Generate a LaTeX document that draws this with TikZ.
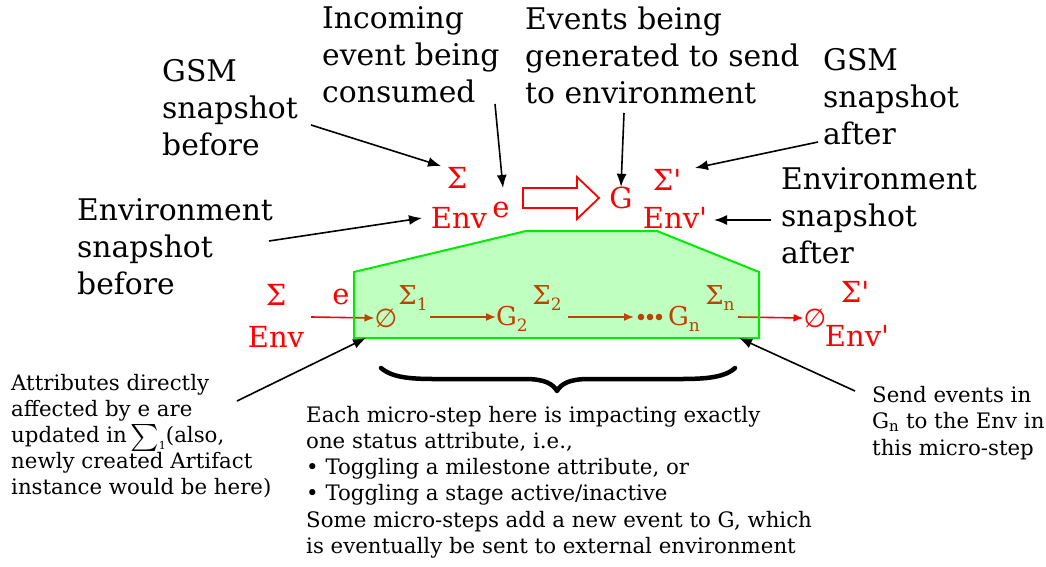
\documentclass[tikz,border=0pt]{standalone}
\usepackage{exscale}
\usepackage{graphicx}
\usepackage{fontspec}
\setmainfont{DejaVu Serif}
\newfontfamily\symfont{DejaVu Sans}
\usetikzlibrary{arrows.meta}
\newcommand\lowsub[1]{\raisebox{-0.45ex}{\fontsize{17}{17}\selectfont #1}}
\newcommand\prm{\textquotesingle}
\newcommand\bigsum[1]{\smash{\raisebox{-0.12em}{\scalebox{1.3}{$\sum$}}\raisebox{-0.35em}{\fontsize{11}{11}\selectfont #1}}}
\begin{document}
\begin{tikzpicture}[x=1pt,y=-1pt,
  lbl/.style={font=\fontsize{29.8}{37}\selectfont, align=left, inner sep=0pt},
  sym/.style={font=\fontsize{29}{29}\selectfont, text=red, inner sep=0pt},
  isym/.style={font=\fontsize{26}{26}\selectfont, text=red, inner sep=0pt},
  note/.style={font=\fontsize{21.3}{26.2}\selectfont, align=left, inner sep=0pt},
  ptr/.style={line width=1.6pt, -{Latex[length=13pt,width=10pt]}},
  flow/.style={red, line width=1.6pt, -{Latex[length=10pt,width=8pt]}},
  hollow/.style={draw=red, line width=1.8pt, fill=white, line join=miter},
  stage/.style={draw={rgb,255:red,0;green,235;blue,0}, line width=2pt,
                fill={rgb,255:red,0;green,255;blue,0}, fill opacity=0.25},
  brace/.style={line width=4.5pt, line cap=round, line join=round}]
\useasboundingbox (0,0) rectangle (1046,567);

% --- explanatory labels -------------------------------------------------
\node[lbl, anchor=west] (inc)  at (322,55)  {Incoming\\event being\\consumed};
\node[lbl, anchor=west] (evt)  at (525,55)  {Events being\\generated to send\\to environment};
\node[lbl, anchor=west] (gsmb) at (162,108) {GSM\\snapshot\\before};
\node[lbl, anchor=west] (gsma) at (823,97)  {GSM\\snapshot\\after};
\node[lbl, anchor=west] (envb) at (77,247)  {Environment\\snapshot\\before};
\node[lbl, anchor=west] (enva) at (781,216) {Environment\\snapshot\\after};

% --- macro step (top row) -------------------------------------------------
\node[sym] (sig)  at (457,178) {Σ};
\node[sym] (env)  at (459,218) {Env};
\node[sym] (ev)   at (501,210) {e};
\node[sym] (gen)  at (621,198) {G};
\node[sym] (sigp) at (667,180) {Σ\prm};
\node[sym] (envp) at (675,218) {Env\prm};
\draw[hollow] (523,188) -- (577,188) -- (577,177) -- (599,198) -- (577,219)
              -- (577,208) -- (523,208) -- cycle;

% --- micro steps (bottom row) ---------------------------------------------
\node[sym] (sig0)  at (276,295) {Σ};
\node[sym] (env0)  at (276,337) {Env};
\node[sym] (ev0)   at (341,297) {e};
\node[isym] (nil1) at (386,318) {\symfont ∅};
\node[isym] (sig1) at (413,298) {Σ\lowsub{1}};
\node[isym] (g2)   at (512,319) {G\lowsub{2}};
\node[isym] (sig2) at (547,298) {Σ\lowsub{2}};
\node[isym] (gn)   at (684,319) {G\lowsub{n}};
\node[isym] (sign) at (720,298) {Σ\lowsub{n}};
\node[isym] (nil2) at (815,318) {\symfont ∅};
\node[sym] (sigp2) at (855,292) {Σ\prm};
\node[sym] (envp2) at (857,336) {Env\prm};
\foreach \x in {641,650,659} \fill[red] (\x,317) circle (3.3pt);

\coordinate (in0) at (311,317);
\coordinate (o1)  at (430,317);
\coordinate (o2)  at (568,317);
\coordinate (d0)  at (634,317);
\coordinate (on)  at (738,317);
\draw[flow] (in0) -- (nil1.west);
\draw[flow] (o1) -- (g2.west |- o1);
\draw[flow] (o2) -- (d0);
\draw[flow] (on) -- (nil2.west);

% translucent stage region laid over the micro steps
\path[stage] (354,272) -- (526,231) -- (657,231) -- (759,272) -- (759,338)
             -- (354,338) -- cycle;

% --- notes ----------------------------------------------------------------
\node[note, anchor=west] (attr) at (11,436)
  {Attributes directly\\affected by e are\\updated in\,\bigsum{1}(also,\\newly created Artifact\\instance would be here)};
\node[note, anchor=west] (send) at (872,423)
  {Send events in\\G\textsubscript{n} to the Env in\\this micro-step};
\node[note, anchor=west] (each) at (306,482)
  {Each micro-step here is impacting exactly\\one status attribute, i.e.,\\%
   • Toggling a milestone attribute, or\\• Toggling a stage active/inactive\\%
   Some micro-steps add a new event to G, which\\is eventually be sent to external environment};

% brace spanning the micro steps
\draw[brace] (381,368) .. controls (395,380) and (420,379) .. (450,379)
   -- (525,379) .. controls (545,379) and (553,384) .. (557,391)
   .. controls (561,384) and (569,379) .. (589,379)
   -- (665,379) .. controls (695,379) and (722,380) .. (735,368);

% --- pointers ---------------------------------------------------------------
\coordinate (pgsmb) at (311,125);
\coordinate (pinc)  at (495,104);
\coordinate (pevt)  at (624,113);
\coordinate (pgsma) at (818,142);
\coordinate (penvb) at (269,241);
\coordinate (penva) at (771,220);
\coordinate (pattr) at (237,401);
\coordinate (psend) at (855,391);
\coordinate (stagebl) at (366,338);
\coordinate (stagebr) at (739,338);
\draw[ptr] (pgsmb) -- (441,166);
\draw[ptr] (pinc) -- (503,188);
\draw[ptr] (pevt) -- (gen.north);
\draw[ptr] (pgsma) -- (695,168);
\draw[ptr] (penvb) -- (422,218);
\draw[ptr] (penva) -- (714,220);
\draw[ptr] (pattr) -- (stagebl);
\draw[ptr] (psend) -- (stagebr);
\end{tikzpicture}
\end{document}
